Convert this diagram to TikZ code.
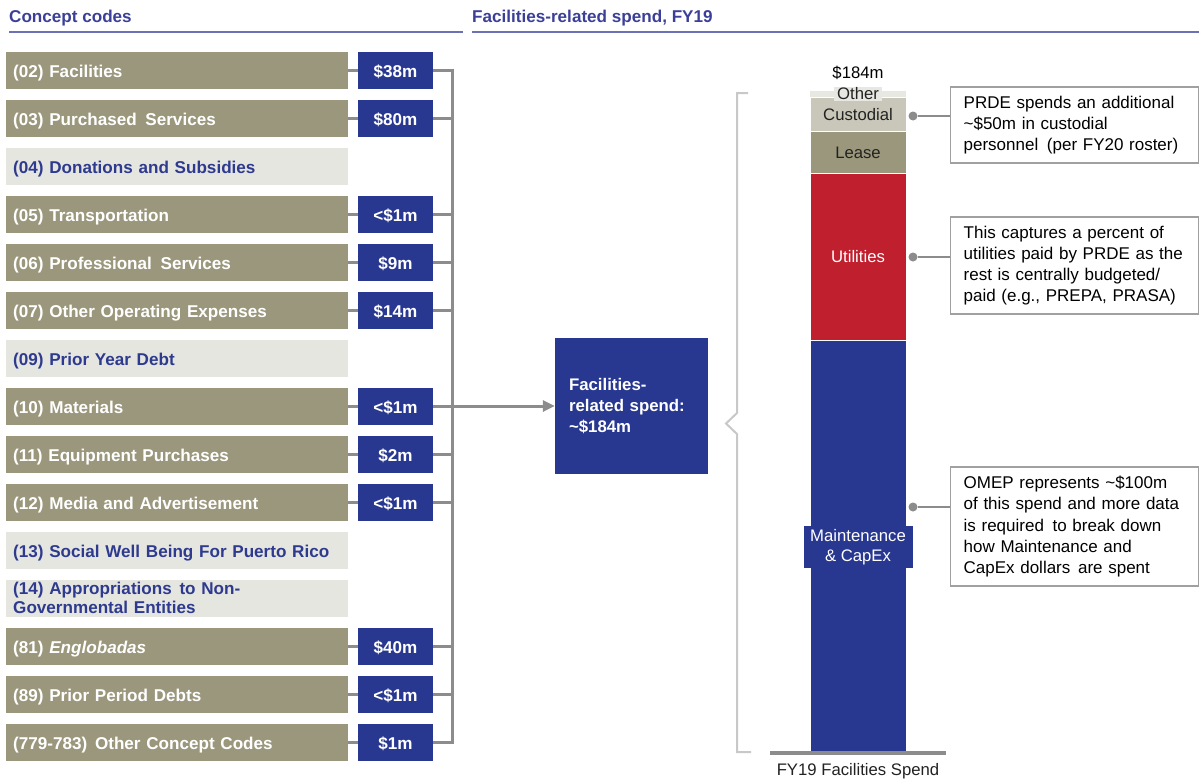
\documentclass[tikz,border=0pt]{standalone}
\usepackage{fontspec}
\setmainfont{Liberation Sans}
\usetikzlibrary{arrows.meta,calc}
\definecolor{hdrblue}{HTML}{3B3F98}
\definecolor{hdrline}{HTML}{6C70B4}
\definecolor{olive}{HTML}{9B977C}
\definecolor{lightrow}{HTML}{E6E6E0}
\definecolor{navy}{HTML}{283891}
\definecolor{redbar}{HTML}{C01F2E}
\definecolor{custo}{HTML}{C9C7B9}
\definecolor{otherc}{HTML}{E8E8E2}
\definecolor{conn}{HTML}{8C8C8C}
\definecolor{bracec}{HTML}{C8C8C8}
\definecolor{boxline}{HTML}{A0A0A0}
\definecolor{rowtext}{HTML}{2E3A8F}
\definecolor{darktext}{HTML}{222222}
\newcommand\rowstrut{\rule[-4pt]{0pt}{22pt}}
\begin{document}
\begin{tikzpicture}[x=1pt,y=-1pt,
  hdr/.style={font=\fontsize{17.1}{20}\selectfont\bfseries, text=hdrblue, anchor=west, inner sep=0pt},
  hdrrule/.style={draw=hdrline, line width=1.5pt},
  rowg/.style={font=\fontsize{17.1}{19.5}\selectfont\bfseries, fill=olive, text=white, minimum width=342pt, minimum height=37pt, text width=328pt, inner xsep=7pt, inner ysep=0pt, align=left, anchor=west},
  rowl/.style={rowg, fill=lightrow, text=rowtext},
  val/.style={font=\fontsize{17.1}{19.5}\selectfont\bfseries, fill=navy, text=white, minimum width=75pt, minimum height=37pt, inner sep=0pt},
  connline/.style={draw=conn, line width=3pt},
  thinconn/.style={draw=conn, line width=1.5pt},
  midbox/.style={font=\fontsize{16.8}{21}\selectfont\bfseries, fill=navy, text=white, minimum width=153pt, minimum height=136pt, text width=125pt, inner xsep=14pt, align=left},
  barlbl/.style={font=\fontsize{16.7}{20}\selectfont, inner sep=1pt},
  callout/.style={font=\fontsize{17}{21.2}\selectfont, draw=boxline, line width=1.3pt, fill=white, text=black, anchor=west, minimum width=248pt, text width=222pt, inner xsep=13pt, align=left},
  dot/.style={circle, fill=conn, inner sep=0pt, minimum size=9pt}
]
\useasboundingbox (0,0) rectangle (1199,782);
% headers
\node[hdr] (h1) at (9,18) {Concept codes};
\node[hdr] (h2) at (472,18) {Facilities-related spend, FY19};
\draw[hdrrule] (9,32) -- (463,32);
\draw[hdrrule] (472,32) -- (1199,32);
% rows
\node[rowg] (r1) at (6,70) {\rowstrut(02) Facilities};
\node[rowg] (r2) at (6,118) {\rowstrut(03) Purchased\hspace{3pt} Services};
\node[rowl] (r3) at (6,166) {\rowstrut(04) Donations and Subsidies};
\node[rowg] (r4) at (6,214) {\rowstrut(05) Transportation};
\node[rowg] (r5) at (6,262) {\rowstrut(06) Professional\hspace{3pt} Services};
\node[rowg] (r6) at (6,310) {\rowstrut(07) Other Operating Expenses};
\node[rowl] (r7) at (6,358) {\rowstrut(09) Prior Year Debt};
\node[rowg] (r8) at (6,406) {\rowstrut(10) Materials};
\node[rowg] (r9) at (6,454) {\rowstrut(11) Equipment Purchases};
\node[rowg] (r10) at (6,502) {\rowstrut(12) Media and Advertisement};
\node[rowl] (r11) at (6,550) {\rowstrut(13) Social Well Being For Puerto Rico};
\node[rowl] (r12) at (6,598) {(14) Appropriations\hspace{2pt} to Non-\\Governmental Entities};
\node[rowg] (r13) at (6,646) {\rowstrut(81) \textit{Englobadas}};
\node[rowg] (r14) at (6,694) {\rowstrut(89) Prior Period Debts};
\node[rowg] (r15) at (6,742) {\rowstrut(779-783)\hspace{2pt} Other Concept Codes};
% values
\coordinate (bus) at (452,0);
\foreach \r/\y/\v in {1/70/{\$38m},2/118/{\$80m},4/214/{<\$1m},5/262/{\$9m},6/310/{\$14m},8/406/{<\$1m},9/454/{\$2m},10/502/{<\$1m},13/646/{\$40m},14/694/{<\$1m},15/742/{\$1m}}{
  \node[val] (v\r) at (395.5,\y) {\rowstrut\v};
  \draw[connline] (r\r.east) -- (v\r.west);
  \draw[connline] (v\r.east) -- (v\r.east -| bus);
}
\draw[connline] ($(v1.east -| bus)+(0,-1.5)$) -- ($(v15.east -| bus)+(0,1.5)$);
% middle box
\node[midbox] (mid) at (631.5,406) {Facilities-\\related spend:\\\textasciitilde\$184m};
\draw[connline, -{Triangle[length=12pt,width=11pt]}] (v8.east -| bus) -- (mid.west);
% brace
\draw[draw=bracec, line width=2pt] (748,93) -- (737,93) -- (737,413) -- (726,423.5) -- (737,434) -- (737,752) -- (751,752);
% bar
\fill[otherc] (810,91) rectangle (906,97);
\filldraw[fill=custo, draw=white, line width=0.8pt] (810,97) rectangle (906,131.5);
\filldraw[fill=olive, draw=white, line width=0.8pt] (810,131.5) rectangle (906,173.5);
\filldraw[fill=redbar, draw=white, line width=0.8pt] (810,173.5) rectangle (906,340.5);
\filldraw[fill=navy, draw=white, line width=0.8pt] (810,340.5) rectangle (906,752);
\draw[draw=conn, line width=3.5pt] (770,753) -- (946,753);
\node[barlbl] (tot) at (858,73) {\$184m};
\node[barlbl, fill=otherc, text=darktext, inner xsep=3pt] (lother) at (858,94) {Other};
\node[barlbl, text=darktext] (lcust) at (858,115) {Custodial};
\node[barlbl, text=darktext] (llease) at (858,153) {Lease};
\node[barlbl, text=white] (lutil) at (858,257) {Utilities};
\node[barlbl, fill=navy, text=white, align=center, minimum width=109pt, minimum height=42pt] (lmaint) at (858,547) {Maintenance\\\& CapEx};
\node[barlbl, text=darktext] (xlab) at (858,771) {FY19 Facilities Spend};
% callouts
\node[callout, minimum height=76pt] (c1) at (950,125) {PRDE spends an additional\\\textasciitilde\$50m in custodial\\personnel\hspace{3pt} (per FY20 roster)};
\node[callout, minimum height=97pt] (c2) at (950,265.5) {This captures a percent of\\utilities paid by PRDE as the\\rest is centrally budgeted/\\paid (e.g., PREPA, PRASA)};
\node[callout, minimum height=119pt] (c3) at (950,526.5) {OMEP represents \textasciitilde\$100m\\of this spend and more data\\is required\hspace{3pt} to break down\\how Maintenance and\\CapEx dollars\hspace{2pt} are spent};
\node[dot] (d1) at (913,116) {};
\node[dot] (d2) at (913,257) {};
\node[dot] (d3) at (913,507) {};
\draw[thinconn] (d1) -- (d1 -| c1.west);
\draw[thinconn] (d2) -- (d2 -| c2.west);
\draw[thinconn] (d3) -- (d3 -| c3.west);
\end{tikzpicture}
\end{document}
